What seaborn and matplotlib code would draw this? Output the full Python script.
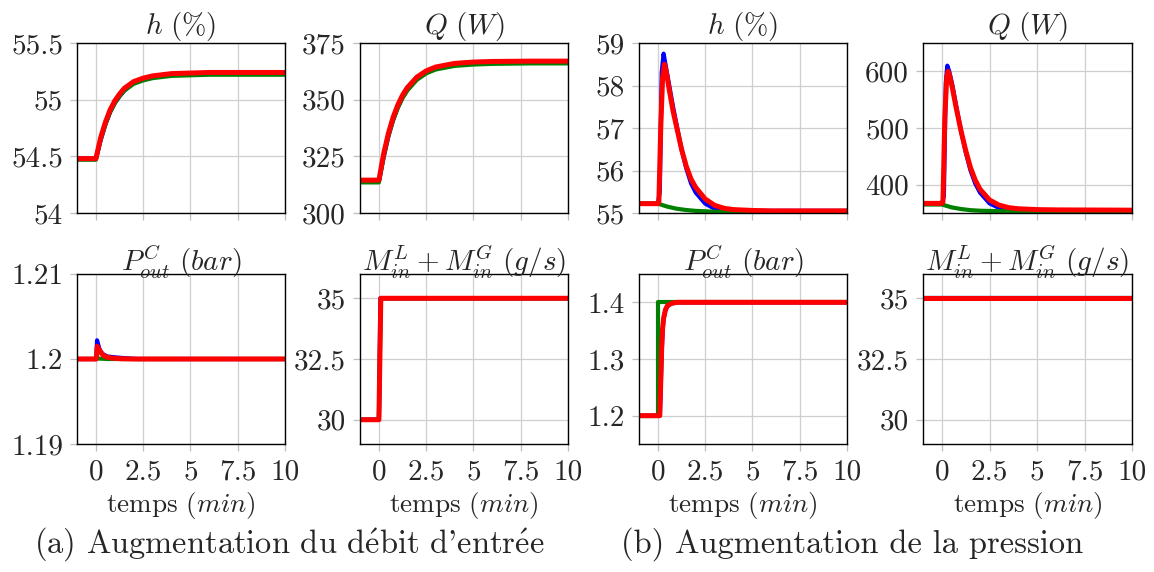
import matplotlib
matplotlib.use("Agg")
import matplotlib.pyplot as plt
import seaborn as sns

# ---------------- data ----------------
xticks = [0, 2.5, 5, 7.5, 10]
xticklabels = ["0", "2.5", "5", "7.5", "10"]

# (a) h (%)
a_h_t = [-1, 0, 0.25, 0.5, 0.75, 1, 1.25, 1.5, 2, 2.5, 3, 4, 5, 6, 8, 10]
a_h_red = [54.48, 54.48, 54.665, 54.80, 54.91, 54.99, 55.05, 55.10, 55.16, 55.19, 55.21, 55.23, 55.235, 55.24, 55.24, 55.24]
a_h_blue = [54.48, 54.48, 54.64, 54.78, 54.89, 54.97, 55.03, 55.08, 55.15, 55.185, 55.205, 55.225, 55.23, 55.23, 55.23, 55.23]
a_h_green = [54.47, 54.47, 54.65, 54.78, 54.89, 54.97, 55.03, 55.08, 55.14, 55.17, 55.19, 55.21, 55.215, 55.22, 55.22, 55.22]

# (a) Q (W)
a_q_t = [-1, 0, 0.25, 0.5, 0.75, 1, 1.25, 1.5, 2, 2.5, 3, 4, 5, 6, 8, 10]
a_q_red = [314.5, 314.5, 326.1, 335.1, 342.2, 347.7, 352.0, 355.3, 359.9, 362.7, 364.4, 366.0, 366.6, 366.85, 367, 367]
a_q_blue = [314, 314, 324.5, 333.8, 341.0, 346.6, 351.0, 354.4, 359.1, 362.0, 363.8, 365.5, 366.1, 366.4, 366.5, 366.5]
a_q_green = [313.5, 313.5, 325.0, 333.9, 340.9, 346.4, 350.7, 354.0, 358.7, 361.6, 363.3, 364.9, 365.5, 365.8, 366, 366]

# (a) P_out^C (bar)
a_p_t_red = [-1, 0, 0.02, 0.07, 0.15, 0.25, 0.4, 0.6, 0.9, 1.3, 2, 10]
a_p_red = [1.2, 1.2, 1.2, 1.2015, 1.2012, 1.2008, 1.2004, 1.2002, 1.2001, 1.20003, 1.2, 1.2]
a_p_t_blue = [-1, 0, 0.02, 0.06, 0.12, 0.2, 0.35, 0.6, 1.0, 1.5, 2.2, 10]
a_p_blue = [1.2, 1.2, 1.2, 1.2022, 1.2017, 1.2011, 1.2006, 1.2003, 1.2002, 1.2001, 1.2, 1.2]
a_p_t_green = [-1, 0, 0.1, 0.3, 0.6, 10]
a_p_green = [1.2, 1.2, 1.20006, 1.20004, 1.2, 1.2]

# (a) M_in^L + M_in^G (g/s)
a_m_t_red = [-1, 0, 0.1, 10]
a_m_red = [30, 30, 35, 35]
a_m_t_blue = [-1, 0, 0.08, 10]
a_m_blue = [30, 30, 35, 35]
a_m_t_green = [-1, 0, 0.1, 10]
a_m_green = [30, 30, 35, 35]

# (b) h (%)
b_h_t_red = [-1, 0, 0.05, 0.15, 0.25, 0.35, 0.45, 0.6, 0.8, 1.0, 1.25, 1.5, 1.75, 2.0, 2.5, 3, 3.5, 4, 5, 6, 8, 10]
b_h_red = [55.22, 55.22, 55.25, 57.0, 58.2, 58.5, 58.3, 57.9, 57.4, 57.0, 56.5, 56.1, 55.8, 55.6, 55.33, 55.18, 55.11, 55.08, 55.06, 55.05, 55.05, 55.05]
b_h_t_blue = [-1, 0, 0.1, 0.2, 0.3, 0.4, 0.6, 0.8, 1.0, 1.25, 1.5, 1.75, 2.0, 2.5, 3, 3.5, 4, 10]
b_h_blue = [55.22, 55.22, 55.5, 58.3, 58.75, 58.5, 58.0, 57.5, 57.05, 56.5, 56.05, 55.7, 55.48, 55.22, 55.1, 55.06, 55.05, 55.05]
b_h_t_green = [-1, 0, 0.5, 1, 1.5, 2, 3, 4, 10]
b_h_green = [55.22, 55.22, 55.15, 55.1, 55.07, 55.05, 55.03, 55.02, 55.02]

# (b) Q (W)
b_q_t_red = [-1, 0, 0.05, 0.15, 0.25, 0.32, 0.4, 0.55, 0.75, 1.0, 1.25, 1.5, 1.75, 2.0, 2.5, 3, 3.5, 4, 5, 6, 10]
b_q_red = [367, 367, 370, 520, 590, 600, 593, 570, 535, 495, 460, 430, 408, 392, 373, 364, 359.5, 357.5, 356, 355.5, 355]
b_q_t_blue = [-1, 0, 0.1, 0.2, 0.28, 0.38, 0.55, 0.75, 1.0, 1.25, 1.5, 1.75, 2.0, 2.5, 3, 3.5, 4, 10]
b_q_blue = [366, 366, 380, 580, 610, 600, 575, 538, 495, 457, 425, 402, 386, 367, 359, 356, 355, 354.5]
b_q_t_green = [-1, 0, 0.5, 1, 1.5, 2, 3, 5, 10]
b_q_green = [365, 365, 360, 357, 355, 354, 353.3, 353, 353]

# (b) P_out^C (bar)
b_p_t_red = [-1, 0, 0.1, 0.15, 0.2, 0.25, 0.3, 0.4, 0.5, 0.7, 1.0, 10]
b_p_red = [1.2, 1.2, 1.2, 1.26, 1.32, 1.355, 1.372, 1.387, 1.394, 1.398, 1.4, 1.4]
b_p_t_blue = [-1, 0, 0.1, 0.15, 0.2, 0.25, 0.3, 0.4, 0.5, 0.7, 1.0, 10]
b_p_blue = [1.2, 1.2, 1.2, 1.25, 1.31, 1.35, 1.37, 1.386, 1.393, 1.398, 1.4, 1.4]
b_p_t_green = [-1, 0, 0, 10]
b_p_green = [1.2, 1.2, 1.4, 1.4]

# (b) M_in^L + M_in^G (g/s)
b_m_t = [-1, 10]
b_m_red = [35, 35]
b_m_blue = [35, 35]
b_m_green = [35, 35]

titles = [r"$h\ (\%)$", r"$Q\ (W)$", r"$P^C_{out}\ (bar)$", r"$M^L_{in}+M^G_{in}\ (g/s)$"]
xlabel = r"temps $(min)$"
captions = [r"(a) Augmentation du d$\acute{\mathrm{e}}$bit d'entr$\acute{\mathrm{e}}$e",
            r"(b) Augmentation de la pression"]

# y-axis settings
yt_h_a, yl_h_a = [54, 54.5, 55, 55.5], ["54", "54.5", "55", "55.5"]
yt_q_a, yl_q_a = [300, 325, 350, 375], ["300", "325", "350", "375"]
yt_p_a, yl_p_a = [1.19, 1.2, 1.21], ["1.19", "1.2", "1.21"]
yt_m, yl_m = [30, 32.5, 35], ["30", "32.5", "35"]
yt_h_b, yl_h_b = [55, 56, 57, 58, 59], ["55", "56", "57", "58", "59"]
yt_q_b, yl_q_b = [400, 500, 600], ["400", "500", "600"]
yt_p_b, yl_p_b = [1.2, 1.3, 1.4], ["1.2", "1.3", "1.4"]

# ---------------- style ----------------
sns.set_style("whitegrid")
plt.rcParams["font.family"] = ["cmr10"]
plt.rcParams["mathtext.fontset"] = "cm"
plt.rcParams["axes.formatter.use_mathtext"] = True
plt.rcParams["axes.unicode_minus"] = False

BLUE, GREEN, RED = "#0000ff", "#008000", "#ff0000"
FS_TICK = 21
FS_TITLE = 21
FS_XLABEL = 19.5
FS_CAP = 23.4

fig = plt.figure(figsize=(11.54, 5.72), dpi=100)
W, H = 1154, 572

cols = [(77, 285), (360, 568), (639, 847), (923, 1132)]
rows = [(43, 213), (274, 444)]

panels = [
    (0, 0, titles[0], [(a_h_t, a_h_blue, BLUE), (a_h_t, a_h_green, GREEN), (a_h_t, a_h_red, RED)], (54, 55.5), yt_h_a, yl_h_a),
    (0, 1, titles[1], [(a_q_t, a_q_blue, BLUE), (a_q_t, a_q_green, GREEN), (a_q_t, a_q_red, RED)], (300, 375), yt_q_a, yl_q_a),
    (0, 2, titles[0], [(b_h_t_blue, b_h_blue, BLUE), (b_h_t_green, b_h_green, GREEN), (b_h_t_red, b_h_red, RED)], (55, 59), yt_h_b, yl_h_b),
    (0, 3, titles[1], [(b_q_t_blue, b_q_blue, BLUE), (b_q_t_green, b_q_green, GREEN), (b_q_t_red, b_q_red, RED)], (350, 650), yt_q_b, yl_q_b),
    (1, 0, titles[2], [(a_p_t_blue, a_p_blue, BLUE), (a_p_t_green, a_p_green, GREEN), (a_p_t_red, a_p_red, RED)], (1.19, 1.21), yt_p_a, yl_p_a),
    (1, 1, titles[3], [(a_m_t_blue, a_m_blue, BLUE), (a_m_t_green, a_m_green, GREEN), (a_m_t_red, a_m_red, RED)], (29, 36), yt_m, yl_m),
    (1, 2, titles[2], [(b_p_t_blue, b_p_blue, BLUE), (b_p_t_green, b_p_green, GREEN), (b_p_t_red, b_p_red, RED)], (1.15, 1.45), yt_p_b, yl_p_b),
    (1, 3, titles[3], [(b_m_t, b_m_blue, BLUE), (b_m_t, b_m_green, GREEN), (b_m_t, b_m_red, RED)], (29, 36), yt_m, yl_m),
]

for r, c, title, series, ylim, yt, yl in panels:
    x0, x1 = cols[c]
    y0, y1 = rows[r]
    ax = fig.add_axes([x0 / W, 1 - y1 / H, (x1 - x0) / W, (y1 - y0) / H])
    for t, y, col in series:
        lw = 3.6 if col == RED else 3.0
        sns.lineplot(x=t, y=y, ax=ax, color=col, linewidth=lw, estimator=None, sort=False)
    ax.set_xlim(-1, 10)
    ax.set_ylim(*ylim)
    ax.set_xticks(xticks)
    ax.set_yticks(yt)
    ax.set_yticklabels(yl, fontsize=FS_TICK)
    if r == 1:
        ax.set_xticklabels(xticklabels, fontsize=FS_TICK)
        ax.set_xlabel(xlabel, fontsize=FS_XLABEL, labelpad=3)
    else:
        ax.set_xticklabels([])
    ax.set_ylabel("")
    ax.set_title(title, fontsize=FS_TITLE, pad=2)
    ax.grid(True, color="#cfcfcf", linewidth=0.9)
    for s in ax.spines.values():
        s.set_color("black")
        s.set_linewidth(1.0)
    ax.tick_params(axis="both", which="major", direction="out", length=5, width=0.9,
                   color="#bfbfbf", left=True, bottom=True)
    ax.tick_params(axis="y", pad=5)
    ax.tick_params(axis="x", pad=6)

fig.text(289 / W, 1 - 544 / H, captions[0], ha="center", va="center", fontsize=FS_CAP)
fig.text(852 / W, 1 - 544 / H, captions[1], ha="center", va="center", fontsize=FS_CAP)

fig.savefig("out.png", dpi=100)
